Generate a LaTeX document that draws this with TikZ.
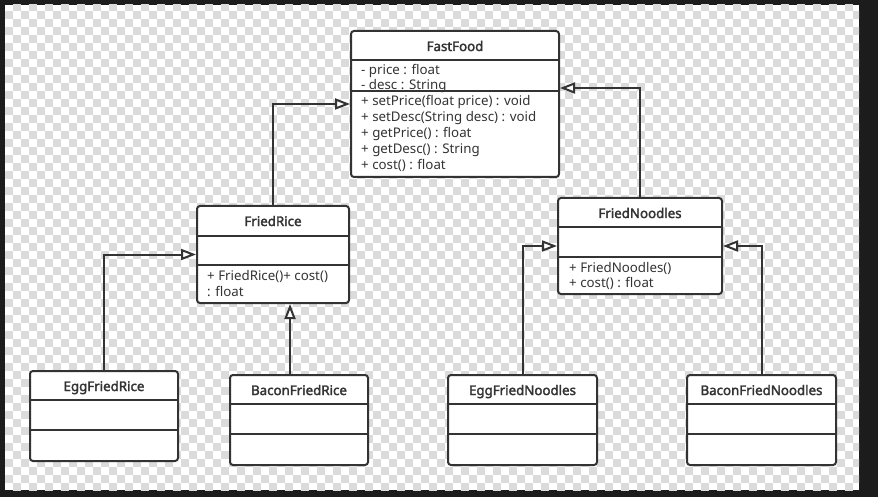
\documentclass[tikz,border=0pt]{standalone}
\usepackage{fontspec}
\setmainfont[AutoFakeBold=2.2]{Noto Sans}
\usetikzlibrary{arrows.meta}
\definecolor{framec}{HTML}{1C1C1C}
\definecolor{chk}{HTML}{DBDBDB}
\definecolor{lc}{HTML}{333333}
\begin{document}
\begin{tikzpicture}[x=1pt,y=-1pt,
  box/.style={draw=lc,line width=2pt,rounded corners=3pt,fill=white,inner sep=0pt},
  divline/.style={draw=lc,line width=2pt},
  title/.style={font=\fontsize{13.3}{15}\selectfont\bfseries,text=lc,anchor=base,inner sep=0pt},
  txt/.style={font=\fontsize{13.3}{15}\selectfont,text=lc,anchor=base west,inner sep=0pt},
  inh/.style={draw=lc,line width=2pt,-{Triangle[length=15pt,width=11pt,fill=white]}}
]
\useasboundingbox (0,0) rectangle (878,497);
\fill[framec] (0,0) rectangle (878,497);
\begin{scope}
\clip (4.7,5) rectangle (859,490);
\fill[white] (4.7,5) rectangle (859,490);
\foreach \j in {0,...,61}{
  \pgfmathtruncatemacro\st{mod(\j+1,2)}
  \foreach \i in {0,...,53}{
    \fill[chk] ({5+8*(2*\i+\st)},{3+8*\j}) rectangle ++(8,8);
  }
}
\end{scope}

% boxes
\node[box,minimum width=208pt,minimum height=146pt] (ff) at (455,104) {};
\node[box,minimum width=152pt,minimum height=97pt] (fr) at (273,254.5) {};
\node[box,minimum width=164pt,minimum height=96pt] (fn) at (640,246) {};
\node[box,minimum width=148pt,minimum height=90pt] (efr) at (104,416) {};
\node[box,minimum width=138pt,minimum height=90pt] (bfr) at (299,420) {};
\node[box,minimum width=149pt,minimum height=90pt] (efn) at (522.5,420) {};
\node[box,minimum width=149pt,minimum height=90pt] (bfn) at (761.5,420) {};

% dividers
\foreach \n/\a/\b in {ff/30/61,fr/31/60,fn/30/60,efr/30/60,bfr/30/60,efn/30/60,bfn/30/60}{
  \draw[divline] ([yshift=-\a pt]\n.north west) -- ([yshift=-\a pt]\n.north east);
  \draw[divline] ([yshift=-\b pt]\n.north west) -- ([yshift=-\b pt]\n.north east);
}

% titles
\node[title] (fft) at (455,51) {FastFood};
\node[title] (frt) at (273,226) {FriedRice};
\node[title] (fnt) at (640,218) {FriedNoodles};
\node[title] (efrt) at (104,391) {EggFriedRice};
\node[title] (bfrt) at (299,395) {BaconFriedRice};
\node[title] (efnt) at (522.5,395) {EggFriedNoodles};
\node[title] (bfnt) at (761.5,395) {BaconFriedNoodles};

% members
\node[txt] (ffa1) at (361,75) {- price : float};
\node[txt] (ffa2) at (361,90) {- desc : String};
\node[txt] (ffm1) at (361,106) {+ setPrice(float price) : void};
\node[txt] (ffm2) at (361,122) {+ setDesc(String desc) : void};
\node[txt] (ffm3) at (361,138) {+ getPrice() : float};
\node[txt] (ffm4) at (361,154) {+ getDesc() : String};
\node[txt] (ffm5) at (361,170) {+ cost() : float};

\node[txt] (frm1) at (207,280) {+ FriedRice()+ cost()};
\node[txt] (frm2) at (207,296) {: float};

\node[txt] (fnm1) at (569,272) {+ FriedNoodles()};
\node[txt] (fnm2) at (569,287) {+ cost() : float};

% inheritance
\draw[inh] (fr.north) |- (ff.west);
\draw[inh] (fn.north) |- ([yshift=16pt]ff.east);
\draw[inh] (efr.north) |- (fr.west);
\draw[inh] ([xshift=-9pt]bfr.north) -- ([xshift=-9pt]bfr.north |- fr.south);
\draw[inh] (efn.north) |- (fn.west);
\draw[inh] (bfn.north) |- (fn.east);
\end{tikzpicture}
\end{document}
